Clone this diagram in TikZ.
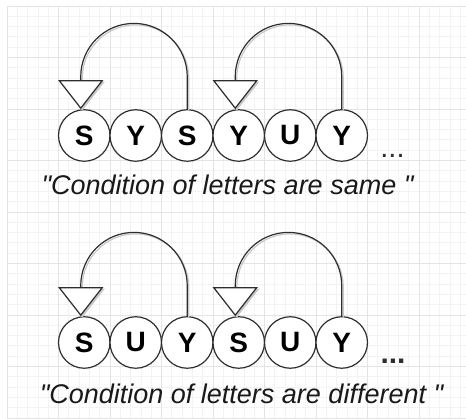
\documentclass[tikz,border=0pt]{standalone}
\usepackage{fontspec}
\setmainfont{Liberation Sans}
\usetikzlibrary{arrows.meta,calc}
\definecolor{gridminor}{HTML}{F3F3F3}
\definecolor{gridmajor}{HTML}{E4E4E4}
\definecolor{ink}{HTML}{2E2E2E}
\definecolor{shade}{HTML}{C8C8C8}
\begin{document}
\begin{tikzpicture}[x=1pt,y=1pt,
  letter/.style={circle,draw=ink,line width=1.2pt,fill=white,minimum size=51.5pt,inner sep=0pt,
    font=\fontsize{28}{28}\selectfont\bfseries,text=black},
  loopline/.style={draw=ink,line width=1.2pt,-{Triangle[width=45pt,length=29pt,fill=white]}},
  loopshadow/.style={draw=shade,line width=1.2pt,-{Triangle[width=45pt,length=29pt,fill=shade]}},
  caption/.style={anchor=base,inner sep=0pt,font=\fontsize{27}{27}\selectfont\itshape,text=black!90},
  dotsreg/.style={anchor=base,inner sep=0pt,font=\fontsize{29}{29}\selectfont,text=ink},
  dotsbold/.style={anchor=base,inner sep=0pt,font=\fontsize{30}{30}\selectfont\bfseries,text=ink},
  minorline/.style={draw=gridminor,line width=0.8pt},
  majorline/.style={draw=gridmajor,line width=0.9pt}
]
\useasboundingbox (0,0) rectangle (466,419);
\fill[white] (0,0) rectangle (466,419);
\begin{scope}
\clip (7,0) rectangle (466,413);
\foreach \i in {0,...,45} {\draw[minorline] ({7+\i*10.3},0) -- ({7+\i*10.3},413);}
\foreach \j in {0,...,40} {\draw[minorline] (7,{413-\j*10.3}) -- (466,{413-\j*10.3});}
\foreach \i in {0,...,9} {\draw[majorline] ({7+\i*51.5},0) -- ({7+\i*51.5},413);}
\foreach \j in {0,...,8} {\draw[majorline] (7,{413-\j*51.5}) -- (466,{413-\j*51.5});}
\end{scope}

% top row
\node[letter] (a1) at (84.25,283.5) {S};
\node[letter] (a2) at (135.75,283.5) {Y};
\node[letter] (a3) at (187.25,283.5) {S};
\node[letter] (a4) at (238.75,283.5) {Y};
\node[letter] (a5) at (290.25,283.5) {U};
\node[letter] (a6) at (341.75,283.5) {Y};
\coordinate (ta1) at ($(a1.north)+(-3.5,0)$);
\coordinate (ta4) at ($(a4.north)+(-3.5,0)$);
\path[loopshadow] ($(a3.north)+(1.5,-1.5)$) -- ++(0,32.5) arc[start angle=0,end angle=180,radius=53.25] -- ($(ta1)+(1.5,-1.5)$);
\path[loopshadow] ($(a6.north)+(1.5,-1.5)$) -- ++(0,32.5) arc[start angle=0,end angle=180,radius=53.25] -- ($(ta4)+(1.5,-1.5)$);
\path[loopline] (a3.north) -- ++(0,32.5) arc[start angle=0,end angle=180,radius=53.25] -- (ta1);
\path[loopline] (a6.north) -- ++(0,32.5) arc[start angle=0,end angle=180,radius=53.25] -- (ta4);
\node[dotsreg] (d1) at (392.5,261) {...};
\node[caption] (c1) at (227.5,224) {\textquotedbl Condition of letters are same \textquotedbl};

% bottom row
\node[letter] (b1) at (84.25,76.5) {S};
\node[letter] (b2) at (135.75,76.5) {U};
\node[letter] (b3) at (187.25,76.5) {Y};
\node[letter] (b4) at (238.75,76.5) {S};
\node[letter] (b5) at (290.25,76.5) {U};
\node[letter] (b6) at (341.75,76.5) {Y};
\coordinate (tb1) at ($(b1.north)+(-3.5,0)$);
\coordinate (tb4) at ($(b4.north)+(-3.5,0)$);
\path[loopshadow] ($(b3.north)+(1.5,-1.5)$) -- ++(0,30.5) arc[start angle=0,end angle=180,radius=53.25] -- ($(tb1)+(1.5,-1.5)$);
\path[loopshadow] ($(b6.north)+(1.5,-1.5)$) -- ++(0,30.5) arc[start angle=0,end angle=180,radius=53.25] -- ($(tb4)+(1.5,-1.5)$);
\path[loopline] (b3.north) -- ++(0,30.5) arc[start angle=0,end angle=180,radius=53.25] -- (tb1);
\path[loopline] (b6.north) -- ++(0,30.5) arc[start angle=0,end angle=180,radius=53.25] -- (tb4);
\node[dotsbold] (d2) at (393,55.5) {...};
\node[caption] (c2) at (241.5,15.7) {\textquotedbl Condition of letters are different \textquotedbl};
\end{tikzpicture}
\end{document}
